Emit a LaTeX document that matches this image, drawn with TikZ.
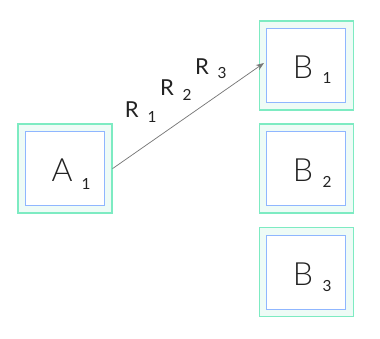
\documentclass[tikz,border=0pt]{standalone}
\usepackage{fontspec}
\setmainfont{Lato}
\newfontfamily\thin{Lato Light}
\usetikzlibrary{arrows.meta,calc}
\definecolor{outerline}{HTML}{7DEBC2}
\definecolor{outerfill}{HTML}{EEFBF6}
\definecolor{innerline}{HTML}{8FB6FF}
\definecolor{arrowgray}{HTML}{777777}
\definecolor{txt}{HTML}{222222}
\tikzset{
  outerbox/.style={draw=outerline, fill=outerfill, line width=1pt, minimum width=70.5pt, minimum height=66.75pt, inner sep=0pt},
  innerbox/.style={draw=innerline, fill=white, line width=0.6pt, minimum width=59.25pt, minimum height=55.5pt, inner sep=0pt},
  bigletter/.style={font=\thin\fontsize{24}{24}\selectfont, text=txt, inner sep=0pt},
  bigsub/.style={font=\fontsize{11.5}{12}\selectfont, text=txt, inner sep=0pt},
  rletter/.style={font=\fontsize{16.5}{17}\selectfont, text=txt, inner sep=0pt},
  rsub/.style={font=\fontsize{11.5}{12}\selectfont, text=txt, inner sep=0pt},
  arr/.style={draw=arrowgray, line width=0.55pt, -{Stealth[length=6pt,width=4.5pt]}}
}
\begin{document}
\begin{tikzpicture}[x=0.75pt,y=-0.75pt]
\useasboundingbox (0,0) rectangle (380,339);
% boxes
\node[outerbox] (A1) at (64.9,168.6) {};
\node[innerbox] (A1in) at (65.3,168.7) {};
\node[outerbox] (B1) at (306.3,65.5) {};
\node[innerbox] (B1in) at (306.3,65.5) {};
\node[outerbox] (B2) at (306.3,168.5) {};
\node[innerbox] (B2in) at (306.3,168.8) {};
\node[outerbox] (B3) at (306.3,272) {};
\node[innerbox] (B3in) at (306.3,272) {};
% texts
\node[bigletter] (A1t) at (62,170) {A};
\node[bigsub] (A1s) at (86,184) {1};
\node[bigletter] (B1t) at (303,67) {B};
\node[bigsub] (B1s) at (327,78) {1};
\node[bigletter] (B2t) at (303,170) {B};
\node[bigsub] (B2s) at (327,182) {2};
\node[bigletter] (B3t) at (303,274) {B};
\node[bigsub] (B3s) at (327,286) {3};
% labels
\node[rletter] (R1t) at (131.7,110) {R};
\node[rsub] (R1s) at (152,117) {1};
\node[rletter] (R2t) at (167,88) {R};
\node[rsub] (R2s) at (187,95) {2};
\node[rletter] (R3t) at (202,67) {R};
\node[rsub] (R3s) at (222,73) {3};
% arrow
\coordinate (B1tip) at (264,63);
\draw[arr] (A1.east) -- (B1tip);
\end{tikzpicture}
\end{document}
